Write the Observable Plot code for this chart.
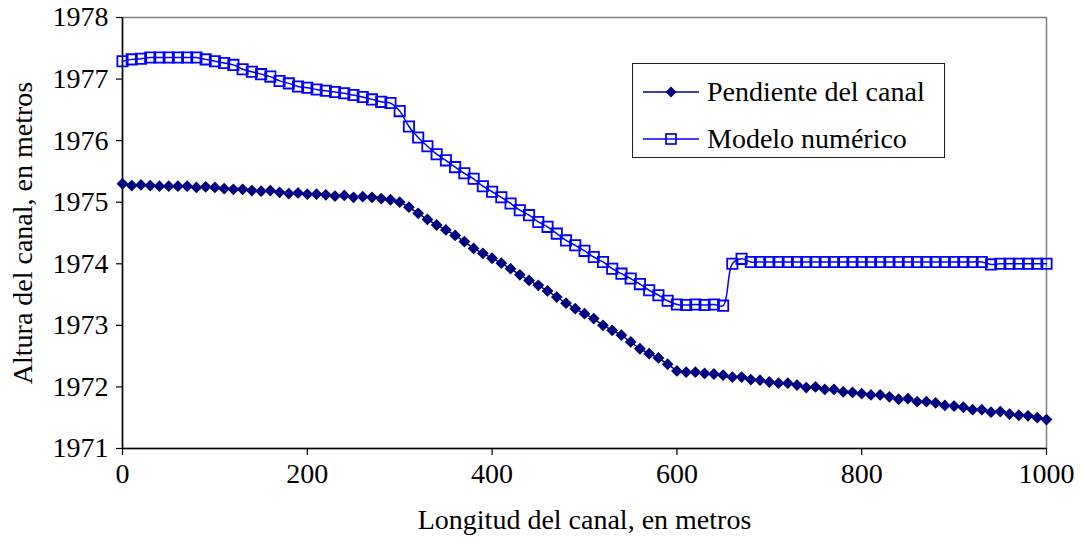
<!DOCTYPE html>
<html>
<head>
<meta charset="utf-8">
<script src="https://cdn.jsdelivr.net/npm/d3@7"></script>
<script src="https://cdn.jsdelivr.net/npm/@observablehq/plot@0.6"></script>
<style>
  html, body { margin: 0; padding: 0; background: #fff; }
  #wrap { position: relative; width: 1082px; height: 544px; font-family: "Liberation Serif", "Times New Roman", Tinos, "DejaVu Serif", "Noto Serif", serif; }
  #legend { position: absolute; left: 632px; top: 63px; width: 311px; height: 93px; border: 1.5px solid #222; background: #fff; }
  .row { position: absolute; left: 0; height: 40px; display: flex; align-items: center; }
  .row svg { margin-left: 10px; }
  .row span { margin-left: 8px; font-size: 28px; color: #000; white-space: nowrap; }
</style>
</head>
<body>
<div id="wrap">
  <div id="chart"></div>
  <div id="legend">
    <div class="row" style="top:8px">
      <svg width="56" height="20"><line x1="0" y1="10" x2="56" y2="10" stroke="#000080" stroke-width="1.5"/><path d="M28,4.5 L33.5,10 L28,15.5 L22.5,10 Z" fill="#000080"/></svg>
      <span>Pendiente del canal</span>
    </div>
    <div class="row" style="top:55px">
      <svg width="56" height="20"><line x1="0" y1="10" x2="56" y2="10" stroke="#0000FF" stroke-width="1.5"/><rect x="23" y="5" width="10" height="10" fill="none" stroke="#0000FF" stroke-width="1.7"/></svg>
      <span>Modelo numérico</span>
    </div>
  </div>
</div>
<script>
const distancia = [0,10,20,30,40,50,60,70,80,90,100,110,120,130,140,150,160,170,180,190,200,210,220,230,240,250,260,270,280,290,300,310,320,330,340,350,360,370,380,390,400,410,420,430,440,450,460,470,480,490,500,510,520,530,540,550,560,570,580,590,600,610,620,630,640,650,660,670,680,690,700,710,720,730,740,750,760,770,780,790,800,810,820,830,840,850,860,870,880,890,900,910,920,930,940,950,960,970,980,990,1000];

const pendiente = [1975.30,1975.27,1975.28,1975.27,1975.26,1975.26,1975.26,1975.26,1975.24,1975.25,
  1975.24,1975.22,1975.21,1975.21,1975.19,1975.18,1975.19,1975.16,1975.14,1975.15,
  1975.13,1975.13,1975.12,1975.10,1975.11,1975.08,1975.09,1975.08,1975.06,1975.04,
  1975.00,1974.92,1974.82,1974.72,1974.63,1974.55,1974.46,1974.36,1974.25,1974.17,
  1974.09,1974.01,1973.92,1973.82,1973.73,1973.65,1973.56,1973.46,1973.36,1973.27,
  1973.19,1973.11,1973.00,1972.92,1972.84,1972.73,1972.62,1972.54,1972.47,1972.37,
  1972.26,1972.24,1972.24,1972.22,1972.21,1972.19,1972.16,1972.16,1972.12,1972.11,
  1972.08,1972.06,1972.06,1972.03,1971.99,1972.00,1971.96,1971.96,1971.92,1971.91,
  1971.89,1971.87,1971.87,1971.84,1971.80,1971.81,1971.76,1971.76,1971.74,1971.70,
  1971.69,1971.67,1971.63,1971.63,1971.59,1971.60,1971.56,1971.54,1971.53,1971.50,
  1971.47];

const modelo = [1977.29,1977.32,1977.33,1977.35,1977.35,1977.35,1977.35,1977.35,1977.35,1977.32,
  1977.29,1977.26,1977.23,1977.16,1977.12,1977.08,1977.04,1976.97,1976.93,1976.88,
  1976.86,1976.83,1976.81,1976.79,1976.77,1976.74,1976.71,1976.67,1976.63,1976.61,
  1976.48,1976.23,1976.05,1975.91,1975.78,1975.68,1975.57,1975.47,1975.38,1975.26,
  1975.17,1975.08,1974.98,1974.87,1974.79,1974.68,1974.60,1974.49,1974.38,1974.30,
  1974.21,1974.11,1974.03,1973.92,1973.84,1973.76,1973.67,1973.57,1973.49,1973.40,
  1973.34,1973.33,1973.34,1973.33,1973.34,1973.32,1974.00,1974.08,1974.03,1974.03,
  1974.03,1974.03,1974.03,1974.03,1974.03,1974.03,1974.03,1974.03,1974.03,1974.03,
  1974.03,1974.03,1974.03,1974.03,1974.03,1974.03,1974.03,1974.03,1974.03,1974.03,
  1974.03,1974.03,1974.03,1974.03,1973.99,1974.00,1974.00,1974.00,1974.00,1974.00,
  1974.00];

const xTicks = [0,200,400,600,800,1000];
const yTicks = [1971,1972,1973,1974,1975,1976,1977,1978];
const xTitle = "Longitud del canal, en metros";
const yTitle = "Altura del canal, en metros";

const dataP = distancia.map((d, i) => ({x: d, y: pendiente[i]}));
const dataM = distancia.map((d, i) => ({x: d, y: modelo[i]}));

const chart = Plot.plot({
  width: 1082,
  height: 544,
  marginLeft: 122,
  marginRight: 36,
  marginTop: 17,
  marginBottom: 96,
  style: {fontFamily: "Liberation Serif, Times New Roman, Tinos, DejaVu Serif, Noto Serif, serif", fontSize: "28px", color: "#000", background: "#fff", overflow: "visible"},
  x: {domain: [0, 1000]},
  y: {domain: [1971, 1978]},
  marks: [
    Plot.frame({stroke: "#808080", strokeWidth: 1.5}),
    Plot.ruleX([0], {stroke: "#000", strokeWidth: 1.5}),
    Plot.ruleY([1971], {stroke: "#000", strokeWidth: 1.5}),
    Plot.axisX({ticks: xTicks, tickSize: 7, tickPadding: 8, tickFormat: "d", label: xTitle, labelAnchor: "center", labelArrow: "none", labelOffset: 80, strokeWidth: 1.2}),
    Plot.axisY({ticks: yTicks, tickSize: 6, tickPadding: 8, tickFormat: "d", label: yTitle, labelAnchor: "center", labelArrow: "none", labelOffset: 110, strokeWidth: 1.2}),
    Plot.line(dataP, {x: "x", y: "y", stroke: "#000080", strokeWidth: 1.5}),
    Plot.dot(dataP, {x: "x", y: "y", symbol: "diamond2", r: 5.3, fill: "#000080", stroke: "none"}),
    Plot.line(dataM, {x: "x", y: "y", stroke: "#0000FF", strokeWidth: 1.5, curve: "catmull-rom"}),
    Plot.dot(dataM, {x: "x", y: "y", symbol: "square", r: 5.8, fill: "none", stroke: "#0000FF", strokeWidth: 1.8})
  ]
});
document.getElementById("chart").appendChild(chart);
</script>
</body>
</html>
